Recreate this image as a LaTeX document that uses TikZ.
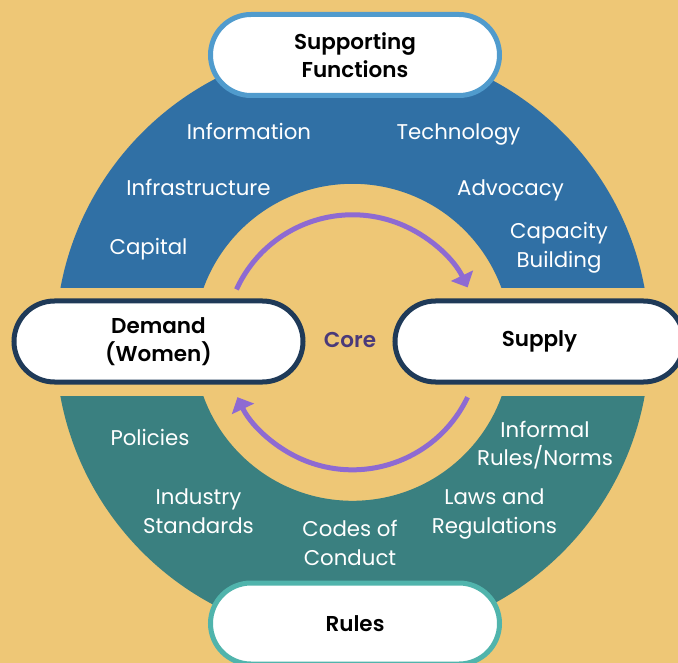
\documentclass[tikz,border=0pt]{standalone}
\usepackage{fontspec}
\setmainfont{Poppins}[BoldFont={Poppins SemiBold}]
\usepackage{tikz}
\usetikzlibrary{shapes.misc, arrows.meta}

\definecolor{bgyellow}{RGB}{238,199,118}
\definecolor{ringblue}{RGB}{48,112,165}
\definecolor{ringteal}{RGB}{58,128,128}
\definecolor{pillblue}{RGB}{80,155,205}
\definecolor{pillnavy}{RGB}{31,58,88}
\definecolor{pillteal}{RGB}{80,180,172}
\definecolor{cyclepurple}{RGB}{142,106,210}
\definecolor{corepurple}{RGB}{74,58,122}

\begin{document}
\begin{tikzpicture}[
    x=1bp, y=1bp,
    pill/.style={rounded rectangle, draw, fill=white, line width=5bp,
        minimum width=289bp, minimum height=81bp, inner sep=0pt, align=center,
        font=\fontsize{21.5bp}{28bp}\selectfont\bfseries},
    item/.style={text=white, align=center, inner sep=0pt,
        font=\fontsize{21.3bp}{28.5bp}\selectfont},
    cyc/.style={cyclepurple, line width=5bp, -{Triangle[length=13bp, width=24bp]}}
]
    % 背景
    \fill[bgyellow] (-352.5,-320.7) rectangle (325.5,342.3);
    \useasboundingbox (-352.5,-320.7) rectangle (325.5,342.3);
    \coordinate (c) at (0,0);

    % 上半环 / 下半环
    \begin{scope}
        \clip (-310,54.5) rectangle (310,310);
        \fill[ringblue, even odd rule] (c) circle[radius=297] (c) circle[radius=158.5];
    \end{scope}
    \begin{scope}
        \clip (-310,-54.5) rectangle (310,-310);
        \fill[ringteal, even odd rule] (c) circle[radius=297] (c) circle[radius=158.5];
    \end{scope}

    % 环上的文字
    \node[item] (info) at (-103.5,211.3) {Information};
    \node[item] (tech) at (106,208.3) {Technology};
    \node[item] (infra) at (-154,155.3) {Infrastructure};
    \node[item] (advo) at (158,152.3) {Advocacy};
    \node[item] (capital) at (-204,93.3) {Capital};
    \node[item] (capacity) at (206.5,94.3) {Capacity\\Building};

    \node[item] (policies) at (-202.5,-94.7) {Policies};
    \node[item] (informal) at (192.5,-102.7) {Informal\\Rules/Norms};
    \node[item] (industry) at (-154,-168.7) {Industry\\Standards};
    \node[item] (laws) at (142,-171.7) {Laws and\\Regulations};
    \node[item] (codes) at (-2.5,-200.5) {Codes of\\Conduct};

    % 循环箭头
    \coordinate (a1) at (155.5:127.5);
    \coordinate (b1) at (-25.5:127.5);
    \draw[cyc] (a1) arc[start angle=155.5, end angle=25.5, radius=127.5];
    \draw[cyc] (b1) arc[start angle=-25.5, end angle=-154.5, radius=127.5];

    \node[text=corepurple, font=\fontsize{21.5bp}{24bp}\selectfont\bfseries] (core) at (-2.5,2.3) {Core};

    % 四个标签
    \node[pill, draw=pillblue] (support) at (2.5,287.3) {Supporting\\Functions};
    \node[pill, draw=pillnavy] (demand) at (-194,0.8) {Demand\\(Women)};
    \node[pill, draw=pillnavy] (supply) at (187,0.8) {Supply};
    \node[pill, draw=pillteal] (rules) at (2.5,-281.2) {Rules};
\end{tikzpicture}
\end{document}
